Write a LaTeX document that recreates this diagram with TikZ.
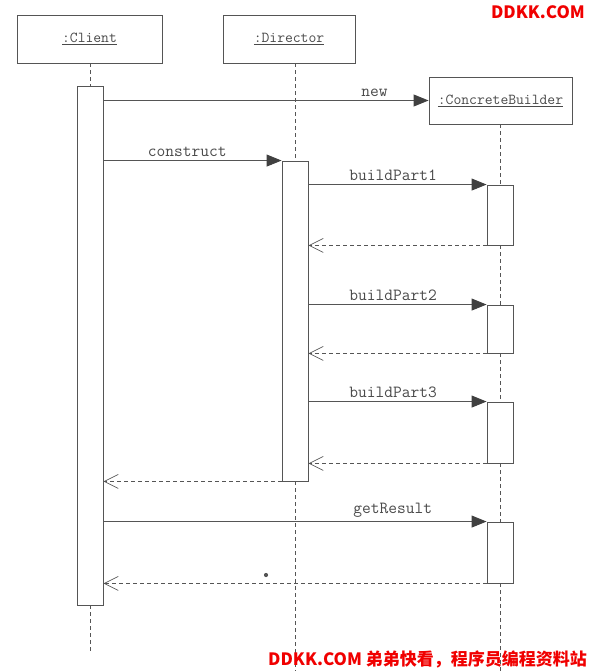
\documentclass[tikz,border=0pt]{standalone}
\usepackage{fontspec}
\newfontfamily\cjkfont{Noto Sans CJK SC}
\usetikzlibrary{arrows.meta,backgrounds}
\definecolor{ln}{HTML}{555555}
\definecolor{tx}{HTML}{4A4A4A}
\definecolor{wm}{HTML}{F00000}
\tikzset{
  obj/.style={draw=ln, line width=0.9pt, fill=white, inner sep=0pt, font=\ttfamily\fontsize{15.2}{17}\selectfont, text=tx},
  act/.style={draw=ln, line width=0.9pt, fill=white, inner sep=0pt, minimum width=26pt},
  life/.style={draw=ln, line width=0.7pt, dash pattern=on 4pt off 3pt},
  msg/.style={draw=ln, line width=0.9pt, -{Triangle[length=15pt,width=12pt,color=black!75]}},
  ret/.style={draw=ln, line width=0.7pt, dash pattern=on 4pt off 3pt, -{Straight Barb[length=14pt,width=14pt,line width=0.7pt]}},
  lbl/.style={font=\ttfamily\fontsize{17}{19}\selectfont, text=tx, above=2.5pt, inner sep=1pt},
  wmark/.style={font=\cjkfont\bfseries\fontsize{17}{19}\selectfont, text=wm, inner sep=0pt}
}
\begin{document}
\begin{tikzpicture}[x=1pt,y=-1pt]
\useasboundingbox (0,0) rectangle (589,671);
% objects
\node[obj, minimum width=145pt, minimum height=48pt] (client) at (89.5,39) {\underline{:Client}};
\node[obj, minimum width=132pt, minimum height=48pt] (director) at (289,39) {\underline{:Director}};
\node[obj, minimum width=143pt, minimum height=47pt] (cb) at (500.5,100.5) {\underline{:ConcreteBuilder}};
% ends of lifelines
\coordinate (cend) at (90,652);
\coordinate (dend) at (295,671);
\coordinate (bend) at (500,671);
% activations
\node[act, minimum height=519pt] (ca) at (90,345.5) {};
\node[act, minimum height=320pt] (da) at (295,321) {};
\node[act, minimum height=60pt] (b1) at (500,215) {};
\node[act, minimum height=48pt] (b2) at (500,329) {};
\node[act, minimum height=61pt] (b3) at (500,432.5) {};
\node[act, minimum height=61pt] (b4) at (500,552.5) {};
% lifelines
\begin{scope}[on background layer]
\draw[life] (ca |- client.south) -- (ca.north);
\draw[life] (ca.south) -- (cend);
\draw[life] (da |- director.south) -- (da.north);
\draw[life] (da.south) -- (dend);
\draw[life] (cb.south -| b1) -- (b1.north);
\draw[life] (b1.south) -- (b2.north);
\draw[life] (b2.south) -- (b3.north);
\draw[life] (b3.south) -- (b4.north);
\draw[life] (b4.south) -- (bend);
\end{scope}
% messages
\draw[msg] (ca.east |- cb.west) -- node[lbl, pos=0.834] (lnew) {new} (cb.west);
\draw[msg] (ca.east |- da.north) -- node[lbl, pos=0.47] (lcon) {construct} (da.north west);
\draw[msg] (da.east |- b1.north) -- node[lbl, pos=0.475] (lb1) {buildPart1} (b1.north west);
\draw[ret] (b1.south west) -- (da.east |- b1.south);
\draw[msg] (da.east |- b2.north) -- node[lbl, pos=0.475] (lb2) {buildPart2} (b2.north west);
\draw[ret] (b2.south west) -- (da.east |- b2.south);
\draw[msg] (da.east |- b3.north) -- node[lbl, pos=0.475] (lb3) {buildPart3} (b3.north west);
\draw[ret] (b3.south west) -- (da.east |- b3.south);
\draw[ret] (da.south west) -- (ca.east |- da.south);
\draw[msg] (ca.east |- b4.north) -- node[lbl, pos=0.755] (lgr) {getResult} (b4.north west);
\draw[ret] (b4.south west) -- (ca.east |- b4.south);
% stray dot
\fill[ln] (266,575) circle (2.1pt);
% watermarks
\node[wmark, anchor=north east] (wm1) at (585,5) {DDKK.COM};
\node[wmark, anchor=south east] (wm2) at (587,668) {DDKK.COM 弟弟快看，程序员编程资料站};
\end{tikzpicture}
\end{document}
